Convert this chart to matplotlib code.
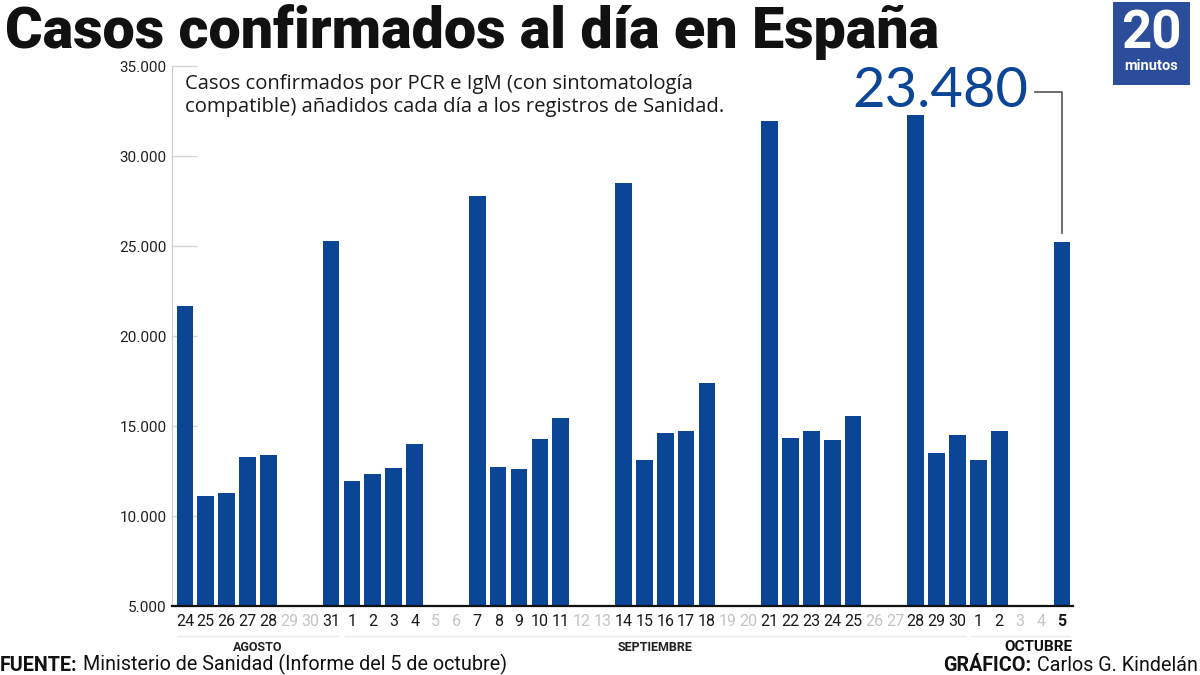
import matplotlib
matplotlib.use("Agg")
import matplotlib.pyplot as plt
import matplotlib.ticker as mticker
from matplotlib.patches import Rectangle
import numpy as np

# ---- data -------------------------------------------------------------------
day_labels = ["24", "25", "26", "27", "28", "29", "30", "31",
              "1", "2", "3", "4", "5", "6", "7", "8", "9", "10", "11", "12", "13",
              "14", "15", "16", "17", "18", "19", "20", "21", "22", "23", "24", "25",
              "26", "27", "28", "29", "30",
              "1", "2", "3", "4", "5"]
cases = [21650, 11100, 11280, 13280, 13390, None, None, 25280,
         11940, 12330, 12670, 14000, None, None, 27780, 12720, 12610, 14280, 15440, None, None,
         28500, 13110, 14610, 14720, 17390, None, None, 31940, 14330, 14720, 14220, 15560,
         None, None, 32280, 13500, 14500,
         13110, 14720, None, None, 25220]
months = ["AGOSTO", "SEPTIEMBRE", "OCTUBRE"]
month_days = [8, 30, 5]
last_value_label = "23.480"

BLUE = "#0b4596"
LOGO = "#2c4c9c"
FONT = ["Roboto", "DejaVu Sans"]


def fit_width(fig, texts, target_px):
    """Scale the font size of the texts so that together they span target_px."""
    fig.canvas.draw()
    r = fig.canvas.get_renderer()
    boxes = [t.get_window_extent(r) for t in texts]
    w = max(b.x1 for b in boxes) - min(b.x0 for b in boxes)
    for t in texts:
        t.set_fontsize(t.get_fontsize() * target_px / w)


# ---- figure -----------------------------------------------------------------
fig = plt.figure(figsize=(12, 6.75), dpi=100)
ax = fig.add_axes([0.1433, 0.1022, 0.894 - 0.1433, 0.9022 - 0.1022])

x = np.arange(len(day_labels))
has = [v is not None for v in cases]
xs = [i for i in x if has[i]]
vals = [cases[i] for i in xs]
ax.bar(xs, vals, width=0.8, color=BLUE, zorder=3)

ax.set_xlim(-0.62, len(day_labels) - 0.48)
ax.set_ylim(5000, 35000)
ax.yaxis.set_major_locator(mticker.MultipleLocator(5000))
ax.yaxis.set_major_formatter(mticker.FuncFormatter(lambda v, p: f"{v:,.0f}".replace(",", ".")))

for s in ["top", "right"]:
    ax.spines[s].set_visible(False)
ax.spines["left"].set_color("#cccccc")
ax.spines["bottom"].set_color("#111111")
ax.spines["bottom"].set_linewidth(1.6)
ax.spines["bottom"].set_zorder(4)
ax.tick_params(axis="y", direction="in", length=18, width=1, color="#d5d5d5", pad=4)
for lab in ax.get_yticklabels():
    lab.set_fontfamily(FONT)
    lab.set_fontsize(11)
    lab.set_color("#222222")

ax.set_xticks(x)
ax.set_xticklabels(day_labels)
ax.tick_params(axis="x", length=0, pad=6)
for i, lab in enumerate(ax.get_xticklabels()):
    lab.set_fontfamily(FONT)
    lab.set_fontsize(11.5)
    lab.set_color("#1a1a1a" if has[i] else "#c4c4c4")
    if i == len(day_labels) - 1:
        lab.set_fontweight("bold")

# month labels and faint separators
start = 0
for k, (m, n) in enumerate(zip(months, month_days)):
    lo, hi = start - 0.5, start + n - 0.5
    ax.plot([lo + 0.15, hi - 0.15], [-0.055, -0.055], transform=ax.get_xaxis_transform(),
            color="#ececec", lw=1, clip_on=False)
    if k == len(months) - 1:
        ax.text(hi, -0.063, m, transform=ax.get_xaxis_transform(), ha="right", va="top",
                fontsize=11, fontweight="bold", family=FONT, color="#111111")
    else:
        ax.text((lo + hi) / 2, -0.064, m, transform=ax.get_xaxis_transform(), ha="center",
                va="top", fontsize=9, fontweight="bold", family=FONT, color="#222222")
    start += n

# description text
ax.text(0.014, 0.985, "Casos confirmados por PCR e IgM (con sintomatología\n"
        "compatible) añadidos cada día a los registros de Sanidad.",
        transform=ax.transAxes, ha="left", va="top", fontsize=14.6, family="Open Sans",
        color="#1a1a1a", linespacing=1.2)

# callout for the last bar
lx = xs[-1]
ly = vals[-1]
top_y = 33560
ax.plot([lx - 1.3, lx, lx], [top_y, top_y, ly + 500], color="#555555", lw=1.2,
        clip_on=False, zorder=5)
big = ax.text(lx - 1.6, top_y, last_value_label, ha="right", va="center", fontsize=40,
              family=["Lato", "DejaVu Sans"], color=BLUE)

# title
title = fig.text(0.004, 0.929, "Casos confirmados al día en España", ha="left",
                 va="baseline", fontsize=43, fontweight="black", family=FONT,
                 color="#111111")

# logo
fig.patches.append(Rectangle((0.9275, 0.874), 0.0642, 0.123, transform=fig.transFigure,
                             facecolor=LOGO, edgecolor="none"))
fig.text(0.9596, 0.949, "20", ha="center", va="center", fontsize=38, fontweight="bold",
         family=FONT, color="white")
fig.text(0.9596, 0.9015, "minutos", ha="center", va="center", fontsize=10.5,
         fontweight="bold", family=FONT, color="white")

# footer
t1 = fig.text(0.0, 0.0, "FUENTE:", ha="left", va="bottom", fontsize=14.2,
              fontweight="bold", family=FONT, color="#111111")
t1b = fig.text(0.0, 0.0, "Ministerio de Sanidad (Informe del 5 de octubre)", ha="left",
               va="bottom", fontsize=14.2, family=FONT, color="#111111")
t2 = fig.text(0.998, 0.0, "Carlos G. Kindelán", ha="right", va="bottom", fontsize=14.2,
              family=FONT, color="#111111")
t2b = fig.text(0.0, 0.0, "GRÁFICO:", ha="right", va="bottom", fontsize=14.2,
               fontweight="bold", family=FONT, color="#111111")

fit_width(fig, [title], 935)
fit_width(fig, [big], 176)

# place the second parts of the footer next to the first ones
fig.canvas.draw()
r = fig.canvas.get_renderer()
b1 = t1.get_window_extent(r)
t1b.set_x((b1.x1 + 5) / fig.bbox.width)
b2 = t2.get_window_extent(r)
t2b.set_x((b2.x0 - 5) / fig.bbox.width)

fig.savefig("out.png", dpi=100, facecolor="white")
